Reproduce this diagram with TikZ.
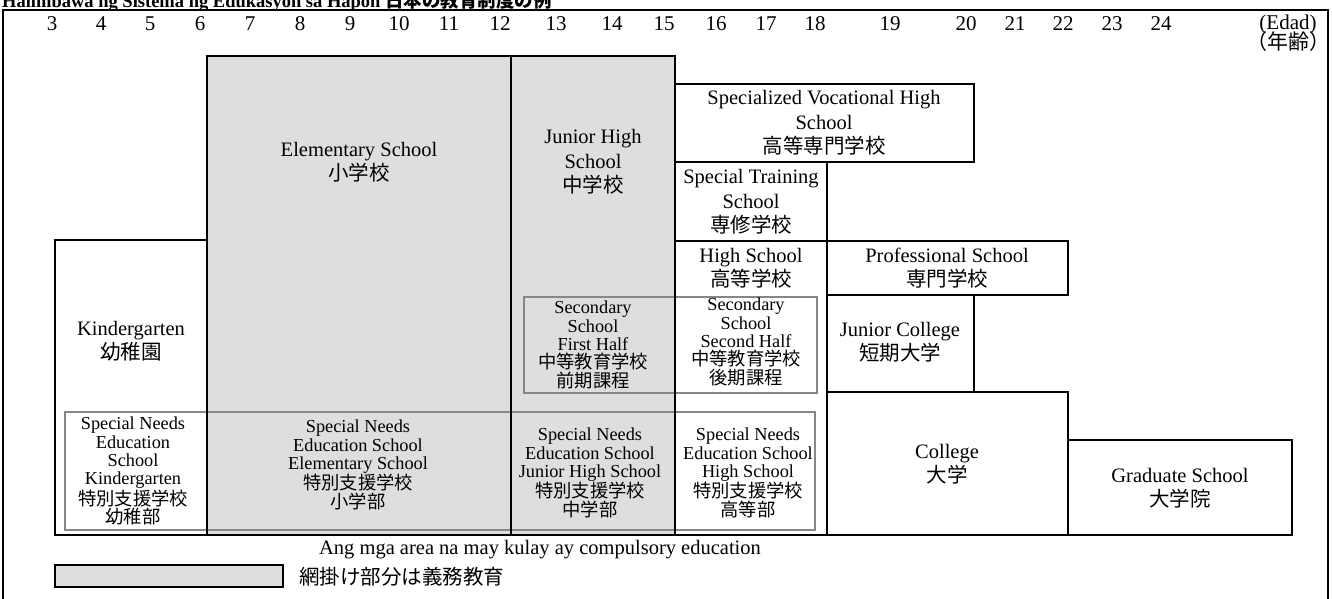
\documentclass[tikz,border=0pt]{standalone}
\usepackage{fontspec}
\setmainfont{Liberation Serif}
\newfontfamily\jp{Noto Sans CJK JP}
\definecolor{compgray}{RGB}{222,222,222}
\definecolor{innergray}{RGB}{135,135,135}
\begin{document}
\begin{tikzpicture}[x=1pt,y=-1pt,
  blk/.style={draw=black,line width=2.4pt},
  inr/.style={draw=innergray,line width=2pt},
  big/.style={align=center,inner sep=0pt,font=\fontsize{20.5}{24.5}\selectfont},
  sml/.style={align=center,inner sep=0pt,font=\fontsize{18.3}{18.3}\selectfont},
  age/.style={inner sep=0pt,font=\fontsize{21}{24}\selectfont}]
\useasboundingbox (0,0) rectangle (1332,598);
\clip (0,0) rectangle (1332,598);
% title (cut off at top, as in the reference)
\node[anchor=base west,inner sep=0pt,font=\fontsize{18.5}{22}\selectfont\bfseries] (title) at (2,7)
  {Halimbawa ng Sistema ng Edukasyon sa Hapon {\jp 日本の教育制度の例}};
% outer frame
\draw[line width=2.6pt] (3,10) rectangle (1328,606);
% ages
\foreach \a/\x in {3/52,4/101,5/150,6/200,7/250,8/300,9/350,10/399,11/449,12/500,13/556,14/612,15/664,16/716,17/766,18/815,19/890,20/966,21/1015,22/1063,23/1112,24/1161}
  \node[age] (age\a) at (\x,24) {\a};
\node[age] (edad) at (1288,24) {(Edad)};
\node[age] (nenrei) at (1288,42) {\jp （年齢）};
% compulsory shading
\fill[compgray] (207,56) rectangle (675,535);
% inner grey groupings
\draw[inr] (524,297) rectangle (817,393);
\draw[inr] (65,412) rectangle (815,530);
% black boxes
\draw[blk] (55,240) rectangle (207,535);
\draw[blk] (207,56) rectangle (511,535);
\draw[blk] (511,56) rectangle (675,535);
\draw[blk] (675,84) rectangle (974,162);
\draw[blk] (675,162) rectangle (827,241);
\draw[blk] (675,241) rectangle (827,535);
\draw[blk] (827,241) rectangle (1068,295);
\draw[blk] (827,295) rectangle (974,392);
\draw[blk] (827,392) rectangle (1068,535);
\draw[blk] (1068,440) rectangle (1292,535);
% labels
\node[big] (kg) at (131,341) {Kindergarten\\{\jp 幼稚園}};
\node[big] (es) at (359,162) {Elementary School\\{\jp 小学校}};
\node[big] (jh) at (593,162) {Junior High\\School\\{\jp 中学校}};
\node[big] (svh) at (824,123) {Specialized Vocational High\\School\\{\jp 高等専門学校}};
\node[big] (sts) at (751,202) {Special Training\\School\\{\jp 専修学校}};
\node[big] (hs) at (751,268) {High School\\{\jp 高等学校}};
\node[big] (ps) at (947,268) {Professional School\\{\jp 専門学校}};
\node[big] (jc) at (900,342) {Junior College\\{\jp 短期大学}};
\node[big] (col) at (947,464) {College\\{\jp 大学}};
\node[big] (gs) at (1180,488) {Graduate School\\{\jp 大学院}};
\node[sml] (sec1) at (593,345) {Secondary\\School\\First Half\\{\jp 中等教育学校}\\{\jp 前期課程}};
\node[sml] (sec2) at (746,342) {Secondary\\School\\Second Half\\{\jp 中等教育学校}\\{\jp 後期課程}};
\node[sml] (snk) at (133,471) {Special Needs\\Education\\School\\Kindergarten\\{\jp 特別支援学校}\\{\jp 幼稚部}};
\node[sml] (sne) at (358,465) {Special Needs\\Education School\\Elementary School\\{\jp 特別支援学校}\\{\jp 小学部}};
\node[sml] (snj) at (590,473) {Special Needs\\Education School\\Junior High School\\{\jp 特別支援学校}\\{\jp 中学部}};
\node[sml] (snh) at (748,473) {Special Needs\\Education School\\High School\\{\jp 特別支援学校}\\{\jp 高等部}};
% legend
\draw[line width=2.2pt,fill=compgray] (55,565) rectangle (283,587);
\node[big] (leg1) at (540,550) {Ang mga area na may kulay ay compulsory education};
\node[big,anchor=west] (leg2) at (299,577) {\jp 網掛け部分は義務教育};
\end{tikzpicture}
\end{document}
